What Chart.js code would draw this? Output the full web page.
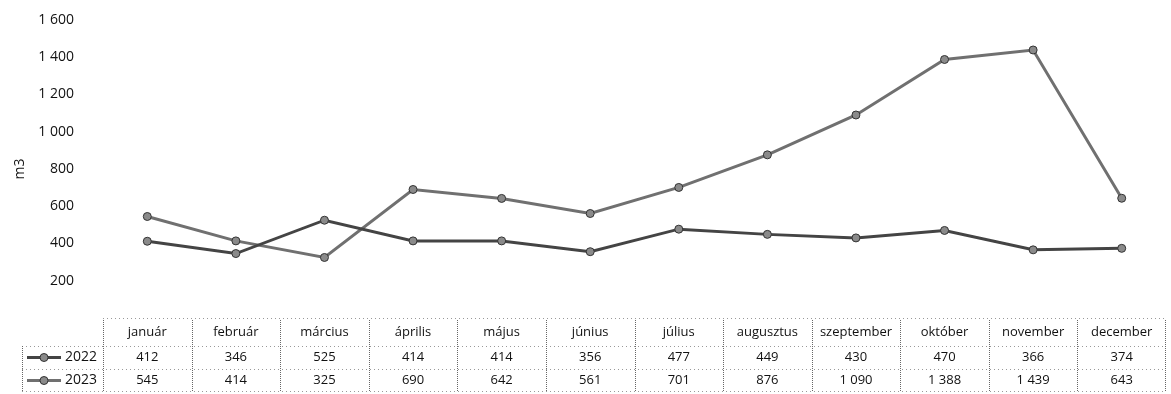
<!DOCTYPE html>
<html>
<head>
<meta charset="utf-8">
<script src="https://cdn.jsdelivr.net/npm/chart.js@4"></script>
<style>
  body { margin: 0; background: #fff; }
  #wrap { width: 1171px; height: 394px; }
</style>
</head>
<body>
<div id="wrap"><canvas id="waterChart" width="1171" height="394"></canvas></div>
<script>
const months = [
  "január",
  "február",
  "március",
  "április",
  "május",
  "június",
  "július",
  "augusztus",
  "szeptember",
  "október",
  "november",
  "december",
];
const seriesNames = ["2022", "2023"];
const values2022 = [412, 346, 525, 414, 414, 356, 477, 449, 430, 470, 366, 374];
const values2023 = [545, 414, 325, 690, 642, 561, 701, 876, 1090, 1388, 1439, 643];
const yMax = 1600;
const yStep = 200;
const yTitle = "m3";

const FONT = "'Open Sans', 'Noto Sans', sans-serif";
const lineColors = ["#444444", "#707070"];

// Hungarian style thousands separator: "1 600"
function fmt(v) {
  return String(v).replace(/\B(?=(\d{3})+(?!\d))/g, " ");
}

// Draws the data table under the plot, columns aligned to the x scale
const dataTablePlugin = {
  id: "dataTable",
  afterDraw(chart) {
    const ctx = chart.ctx;
    const xs = chart.scales.x;
    const area = chart.chartArea;
    const top = area.bottom;
    const rowH = [28, 23, 23];
    const rowTop = [top, top + rowH[0], top + rowH[0] + rowH[1]];
    const bottom = rowTop[2] + rowH[2];
    const half = (xs.getPixelForValue(1) - xs.getPixelForValue(0)) / 2;
    const tableLeft = 22;

    ctx.save();
    ctx.strokeStyle = "#999";
    ctx.lineWidth = 1;
    ctx.setLineDash([1, 3]);

    // horizontal lines
    ctx.beginPath();
    ctx.moveTo(area.left, top + 0.5);
    ctx.lineTo(area.right, top + 0.5);
    ctx.moveTo(tableLeft, rowTop[1] + 0.5);
    ctx.lineTo(area.right, rowTop[1] + 0.5);
    ctx.moveTo(tableLeft, rowTop[2] + 0.5);
    ctx.lineTo(area.right, rowTop[2] + 0.5);
    ctx.moveTo(tableLeft, bottom - 0.5);
    ctx.lineTo(area.right, bottom - 0.5);
    ctx.stroke();

    // vertical lines
    ctx.strokeStyle = "#666";
    ctx.setLineDash([1, 1]);
    ctx.beginPath();
    for (let i = 0; i <= months.length; i++) {
      const x = Math.round(xs.getPixelForValue(0) - half + i * 2 * half) + 0.5;
      ctx.moveTo(Math.min(x, area.right - 0.5), top + 2);
      ctx.lineTo(Math.min(x, area.right - 0.5), bottom);
    }
    ctx.moveTo(tableLeft + 0.5, rowTop[1]);
    ctx.lineTo(tableLeft + 0.5, bottom);
    ctx.stroke();
    ctx.setLineDash([]);

    // text
    ctx.fillStyle = "#111";
    ctx.font = "13px " + FONT;
    ctx.textAlign = "center";
    ctx.textBaseline = "middle";
    months.forEach((m, i) => {
      const x = xs.getPixelForValue(i);
      ctx.fillText(m, x, rowTop[0] + rowH[0] / 2);
    });
    const rows = [values2022, values2023];
    rows.forEach((vals, r) => {
      const cy = rowTop[r + 1] + rowH[r + 1] / 2;
      vals.forEach((v, i) => {
        ctx.fillText(fmt(v), xs.getPixelForValue(i), cy);
      });
      // legend key
      ctx.strokeStyle = lineColors[r];
      ctx.lineWidth = 3;
      ctx.beginPath();
      ctx.moveTo(27, cy);
      ctx.lineTo(61, cy);
      ctx.stroke();
      ctx.beginPath();
      ctx.arc(44, cy, 4, 0, Math.PI * 2);
      ctx.fillStyle = "#8a8a8a";
      ctx.fill();
      ctx.lineWidth = 1;
      ctx.strokeStyle = "#333";
      ctx.stroke();
      ctx.fillStyle = "#111";
      ctx.font = "14px " + FONT;
      ctx.textAlign = "right";
      ctx.fillText(seriesNames[r], 97, cy);
      ctx.textAlign = "center";
      ctx.font = "13px " + FONT;
    });
    ctx.restore();
  },
};

const ctx = document.getElementById("waterChart").getContext("2d");
new Chart(ctx, {
  type: "line",
  data: {
    labels: months,
    datasets: [
      {
        label: seriesNames[0],
        data: values2022,
        borderColor: lineColors[0],
        borderWidth: 3,
        pointRadius: 4,
        pointBackgroundColor: "#8a8a8a",
        pointBorderColor: "#333",
        pointBorderWidth: 1,
        tension: 0,
      },
      {
        label: seriesNames[1],
        data: values2023,
        borderColor: lineColors[1],
        borderWidth: 3,
        pointRadius: 4,
        pointBackgroundColor: "#8a8a8a",
        pointBorderColor: "#333",
        pointBorderWidth: 1,
        tension: 0,
      },
    ],
  },
  options: {
    responsive: false,
    animation: false,
    layout: {
      padding: { top: 20, bottom: 76, left: 0, right: 0 },
    },
    scales: {
      x: {
        display: false,
        offset: true,
      },
      y: {
        min: 0,
        max: yMax,
        afterFit: function (scale) {
          scale.width = 103;
        },
        // invisible tick marks keep the labels away from the plot
        grid: {
          display: true,
          drawOnChartArea: false,
          drawTicks: true,
          tickLength: 29,
          color: "rgba(0,0,0,0)",
        },
        border: { display: false },
        ticks: {
          stepSize: yStep,
          padding: 0,
          color: "#111",
          font: { family: FONT, size: 14 },
          callback: function (value) {
            return value === 0 ? "" : fmt(value);
          },
        },
        title: {
          display: true,
          text: yTitle,
          color: "#111",
          padding: { top: 12, bottom: 0 },
          font: { family: FONT, size: 14 },
        },
      },
    },
    plugins: {
      legend: { display: false },
      tooltip: { enabled: false },
    },
  },
  plugins: [dataTablePlugin],
});
</script>
</body>
</html>
